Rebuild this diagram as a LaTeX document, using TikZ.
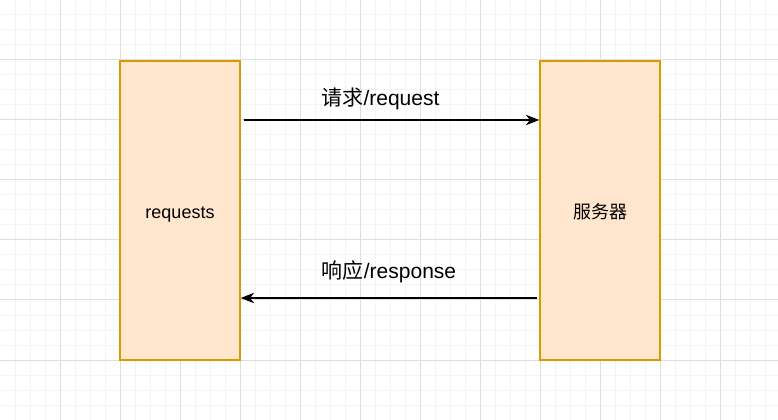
\documentclass[tikz,border=0pt]{standalone}
\usepackage{fontspec}
\setmainfont{Liberation Sans}
\newfontfamily\cjk{Noto Sans CJK SC}
\usetikzlibrary{
  arrows.meta,
  positioning,  % Function "of" (e.g. [right=of x])
}
\definecolor{boxfill}{HTML}{FFE6CC}
\definecolor{boxline}{HTML}{D79B00}
\definecolor{gridminor}{HTML}{F4F4F4}
\definecolor{gridmajor}{HTML}{DEDEDE}
\tikzset{
  x=0.75pt,
  y=-0.75pt,
  minor line/.style={
    draw=gridminor,
    line width=0.75pt
  },
  major line/.style={
    draw=gridmajor,
    line width=0.75pt
  },
  my box/.style={
    draw=boxline,
    fill=boxfill,
    line width=1.1pt,
    minimum width=90pt,
    minimum height=224.25pt,
    inner sep=0pt,
    rectangle
  },
  box text/.style={
    inner sep=0pt,
    font=\fontsize{13.5pt}{16pt}\selectfont
  },
  my label/.style={
    inner sep=0pt,
    font=\fontsize{15.75pt}{18pt}\selectfont
  },
  my arrow/.style={
    line width=1.1pt,
    -{Stealth[length=10pt,width=7.8pt,inset=3pt]}
  }
}

\begin{document}
\begin{tikzpicture}
\useasboundingbox (0,0) rectangle (778,420);
\fill[white] (0,0) rectangle (778,420);
% grid
\foreach \gx in {15,30,...,765} {\draw[minor line] (\gx,0) -- (\gx,420);}
\foreach \gy in {15,30,...,405} {\draw[minor line] (0,\gy) -- (778,\gy);}
\foreach \gx in {60,120,...,720} {\draw[major line] (\gx,0) -- (\gx,420);}
\foreach \gy in {0,60,...,420} {\draw[major line] (0,\gy) -- (778,\gy);}
% boxes
\node[my box] (client) at (180,210.5) {};
\node[my box] (server) at (600,210.5) {};
\node[box text,yshift=-3pt] (clienttext) at (client.center) {requests};
\node[box text,yshift=-1pt] (servertext) at (server.center) {\cjk 服务器};
% request / response
\coordinate (reqstart) at (244,120);
\coordinate (respstart) at (537,298);
\draw[my arrow] (reqstart) -- (server.west |- reqstart);
\draw[my arrow] (respstart) -- (client.east |- respstart);
\node[my label] (req) at (380.5,99) {{\cjk 请求}/request};
\node[my label] (resp) at (389,272) {{\cjk 响应}/response};
\end{tikzpicture}
\end{document}
